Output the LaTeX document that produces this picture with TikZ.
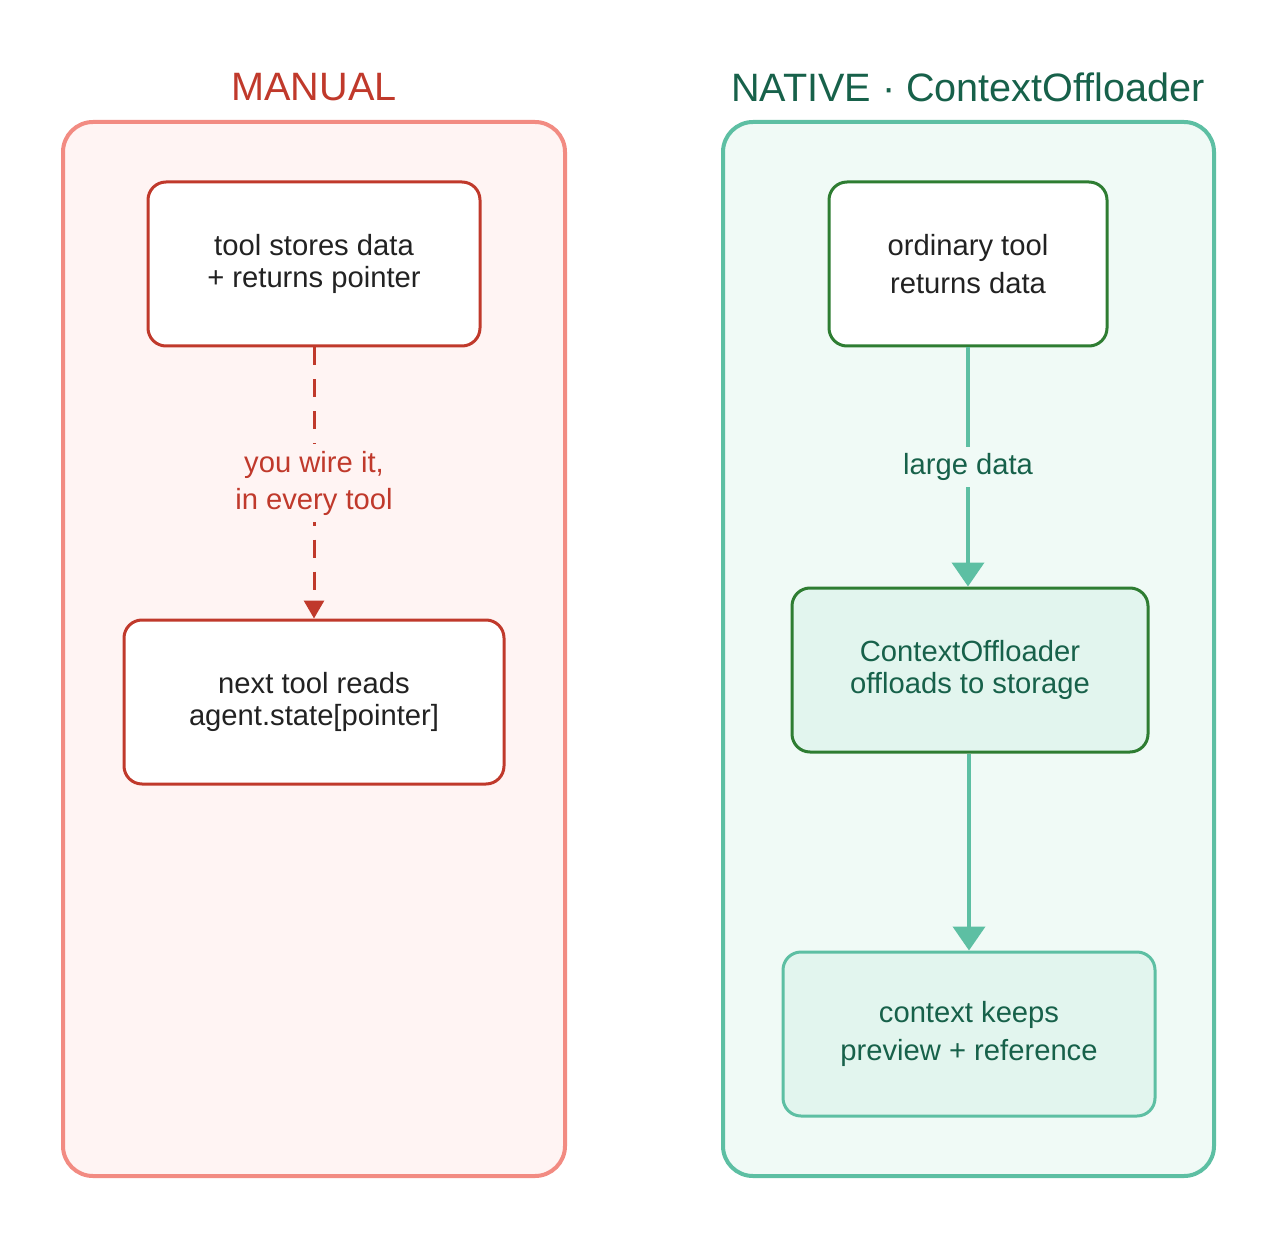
\documentclass[tikz,border=0pt]{standalone}
\usepackage{fontspec}
\setmainfont{Liberation Sans}
\usetikzlibrary{arrows.meta,positioning}
\definecolor{redline}{HTML}{C0392B}
\definecolor{redpanel}{HTML}{F28B82}
\definecolor{redfill}{HTML}{FFF4F3}
\definecolor{tealline}{HTML}{5DBFA3}
\definecolor{tealfill}{HTML}{F0FAF6}
\definecolor{mintfill}{HTML}{E2F5EE}
\definecolor{greenline}{HTML}{2E7D32}
\definecolor{darkgreen}{HTML}{17614A}
\definecolor{textgray}{HTML}{222222}
\begin{document}
\begin{tikzpicture}[x=0.5pt,y=-0.5pt, font=\fontsize{14.6}{18.5}\selectfont,
  panel/.style={rounded corners=15pt, line width=2pt},
  box/.style={rectangle, rounded corners=9pt, line width=1.5pt, align=center, fill=white},
  title/.style={font=\fontsize{19.8}{23}\selectfont},
  flow/.style={-{Triangle[length=12pt,width=16pt]}, line width=2pt, tealline}]

  \useasboundingbox (0,0) rectangle (1278,1240);

  % left panel
  \draw[panel, draw=redpanel, fill=redfill] (63,122) rectangle (565,1176);
  \node[title, text=redline] (mtitle) at (314,87) {MANUAL};
  \node[box, draw=redline, text=textgray, minimum width=166pt, minimum height=82pt] (stores) at (314,264) {\raisebox{-3pt}{\shortstack{tool stores data\\[2pt]+ returns pointer}}};
  \node[box, draw=redline, text=textgray, minimum width=190pt, minimum height=82pt] (reads) at (314,702) {\raisebox{-3pt}{\shortstack{next tool reads\\[2pt]agent.state[pointer]}}};
  \draw[redline, line width=1.5pt, dash pattern=on 9pt off 7pt, -{Triangle[length=9pt,width=10pt]}] (stores) -- node[fill=redfill, text=redline, align=center] {you wire it,\\in every tool} (reads);

  % right panel
  \draw[panel, draw=tealline, fill=tealfill] (723,122) rectangle (1214,1176);
  \node[title, text=darkgreen] (ntitle) at (968,87) {NATIVE · ContextOffloader};
  \node[box, draw=greenline, text=textgray, minimum width=139pt, minimum height=82pt] (ordinary) at (968,264) {\raisebox{-3pt}{\shortstack{ordinary tool\\[2pt]returns data}}};
  \node[box, draw=greenline, fill=mintfill, text=darkgreen, minimum width=178pt, minimum height=82pt] (offload) at (970,670) {\raisebox{-3pt}{\shortstack{ContextOffloader\\[2pt]offloads to storage}}};
  \node[box, draw=tealline, fill=mintfill, text=darkgreen, minimum width=186pt, minimum height=82pt] (keeps) at (969,1034) {\raisebox{-3pt}{\shortstack{context keeps\\[2pt]preview + reference}}};
  \draw[flow] (ordinary) -- node[fill=tealfill, text=darkgreen] {large data} (ordinary |- offload.north);
  \draw[flow] (offload.south -| keeps) -- (keeps);
\end{tikzpicture}
\end{document}
